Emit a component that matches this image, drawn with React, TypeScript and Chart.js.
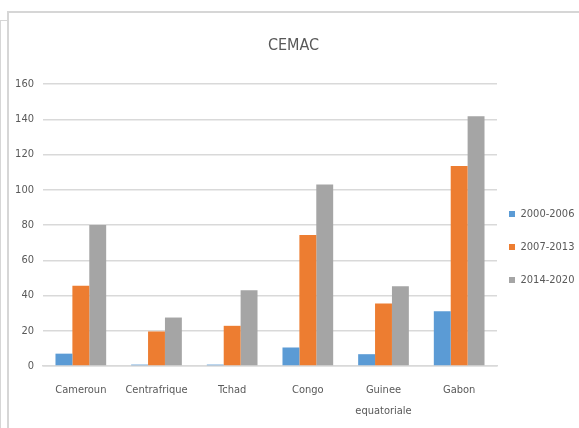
import React, { useEffect, useRef } from "react";
import { Chart, registerables } from "chart.js";

Chart.register(...registerables);

const categories: (string | string[])[] = ["Cameroun", "Centrafrique", "Tchad", "Congo", ["Guinee", "equatoriale"], "Gabon"];
const seriesNames = ["2000-2006", "2007-2013", "2014-2020"];
const values2000_2006 = [7, 0.8, 0.8, 10.5, 6.7, 31];
const values2007_2013 = [45.5, 19.6, 22.8, 74.3, 35.4, 113.5];
const values2014_2020 = [80, 27.5, 43, 103, 45.3, 141.7];
const seriesColors = ["#5B9BD5", "#ED7D31", "#A5A5A5"];
const titleText = "CEMAC";

const FONT = "'DejaVu Sans Condensed', 'Liberation Sans', sans-serif";
const TEXT = "#595959";
const GRID = "#D9D9D9";

const legendNudge = {
  id: "legendNudge",
  afterLayout(chart: any) {
    const l = chart.legend;
    if (!l) return;
    l.left -= 10;
    l.right = chart.width;
    l.width = l.right - l.left;
    l.top += 33;
    l.bottom += 33;
  },
};

export default function App() {
  const ref = useRef<HTMLCanvasElement | null>(null);
  useEffect(() => {
    if (!ref.current) return;
    const chart = new Chart(ref.current, {
      type: "bar",
      data: {
        labels: categories,
        datasets: [values2000_2006, values2007_2013, values2014_2020].map((d, i) => ({
          label: seriesNames[i],
          data: d,
          backgroundColor: seriesColors[i],
          borderWidth: 0,
          categoryPercentage: 0.67,
          barPercentage: 1,
        })),
      },
      options: {
        animation: false,
        responsive: false,
        devicePixelRatio: 1,
        layout: { padding: { left: 8, top: 12, right: 0, bottom: 12 } },
        plugins: {
          title: {
            display: true,
            text: titleText,
            color: TEXT,
            font: { family: FONT, size: 16, weight: "normal" },
            padding: { top: 24, bottom: 28.8 },
          },
          legend: {
            position: "right",
            maxWidth: 82,
            labels: {
              boxWidth: 6,
              boxHeight: 6,
              padding: 22,
              color: TEXT,
              font: { family: FONT, size: 11 },
            },
          },
          tooltip: { enabled: false },
        },
        scales: {
          x: {
            grid: { display: false },
            border: { display: true, color: GRID, width: 1.5 },
            ticks: {
              color: TEXT,
              font: { family: FONT, size: 11, lineHeight: 1.9 },
              padding: 6,
              maxRotation: 0,
              autoSkip: false,
            },
            afterFit: (s: any) => { s.height = 50; },
          },
          y: {
            min: 0,
            max: 160,
            ticks: { stepSize: 20, color: TEXT, font: { family: FONT, size: 11 }, padding: 9 },
            grid: { color: GRID, lineWidth: 1.5, drawTicks: false },
            border: { display: false },
            afterFit: (s: any) => { s.width = 35; },
          },
        },
      },
      plugins: [legendNudge],
    });
    return () => chart.destroy();
  }, []);

  return (
    <div style={{ position: "fixed", left: 0, top: 0, width: 579, height: 428, background: "#fff", overflow: "hidden" }}>
      <div style={{ position: "absolute", left: 8, top: 11, width: 571, height: 2, background: "#D6D6D6" }} />
      <div style={{ position: "absolute", left: 7, top: 11, width: 2, height: 417, background: "#D6D6D6" }} />
      <div style={{ position: "absolute", left: 0, top: 20, width: 8, height: 1, background: "#D6D6D6" }} />
      <div style={{ position: "absolute", left: 0, top: 20, width: 1, height: 408, background: "#D6D6D6" }} />
      <canvas ref={ref} width={579} height={428} style={{ position: "absolute", left: 0, top: 0 }} />
    </div>
  );
}
